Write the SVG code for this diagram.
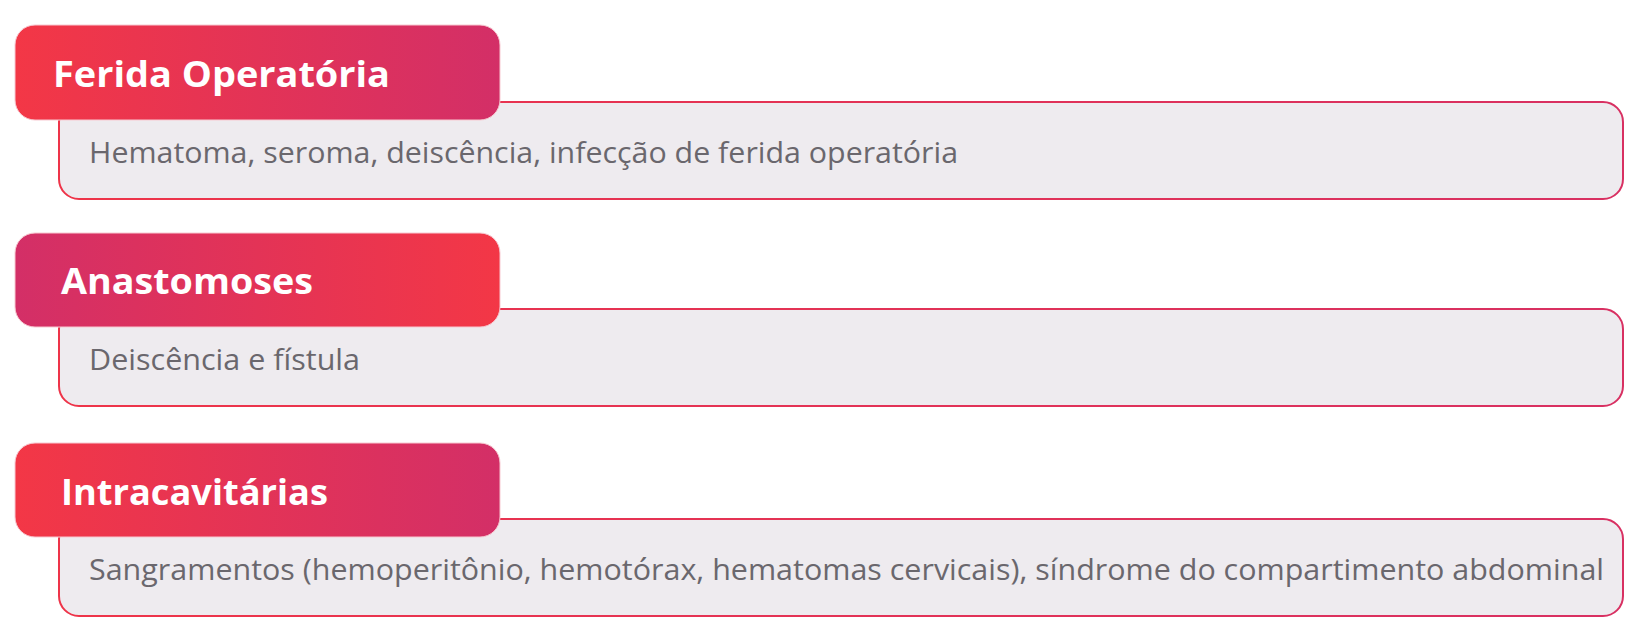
<svg xmlns="http://www.w3.org/2000/svg" width="1646" height="641" viewBox="0 0 1646 641">
  <defs>
    <linearGradient id="gRedPink" x1="0" y1="0" x2="1" y2="0">
      <stop offset="0" stop-color="#F33746"/>
      <stop offset="1" stop-color="#D32F67"/>
    </linearGradient>
    <linearGradient id="gPinkRed" x1="0" y1="0" x2="1" y2="0">
      <stop offset="0" stop-color="#D32F67"/>
      <stop offset="1" stop-color="#F33746"/>
    </linearGradient>
    <linearGradient id="gStroke" x1="0" y1="0" x2="1" y2="0">
      <stop offset="0" stop-color="#EE3449"/>
      <stop offset="1" stop-color="#D83062"/>
    </linearGradient>
    <style>
      .body { fill: #EEEBEF; stroke: url(#gStroke); stroke-width: 2; }
      .head { stroke: #F7C9D1; stroke-width: 1; }
      .ht { font-family: "Open Sans", "Liberation Sans", sans-serif; font-weight: 700; font-size: 36px; fill: #FFFFFF; }
      .bt { font-family: "Open Sans", "Liberation Sans", sans-serif; font-weight: 500; font-size: 29px; fill: #6A676D; }
    </style>
  </defs>
  <rect width="1646" height="641" fill="#FFFFFF"/>

  <g id="node-ferida">
    <rect class="body" x="59" y="102" width="1564" height="97" rx="20" ry="20"/>
    <rect class="head" x="15" y="25" width="485" height="95" rx="20" ry="20" fill="url(#gRedPink)"/>
    <text class="ht" x="53" y="87" textLength="337" lengthAdjust="spacingAndGlyphs">Ferida Operatória</text>
    <text class="bt" x="89" y="163" textLength="869" lengthAdjust="spacingAndGlyphs">Hematoma, seroma, deiscência, infecção de ferida operatória</text>
  </g>

  <g id="node-anastomoses">
    <rect class="body" x="59" y="309" width="1564" height="97" rx="20" ry="20"/>
    <rect class="head" x="15" y="233" width="485" height="94" rx="20" ry="20" fill="url(#gPinkRed)"/>
    <text class="ht" x="61" y="294" textLength="252" lengthAdjust="spacingAndGlyphs">Anastomoses</text>
    <text class="bt" x="89" y="370" textLength="271" lengthAdjust="spacingAndGlyphs">Deiscência e fístula</text>
  </g>

  <g id="node-intracavitarias">
    <rect class="body" x="59" y="519" width="1564" height="97" rx="20" ry="20"/>
    <rect class="head" x="15" y="443" width="485" height="94" rx="20" ry="20" fill="url(#gRedPink)"/>
    <text class="ht" x="61" y="505" textLength="267" lengthAdjust="spacingAndGlyphs">Intracavitárias</text>
    <text class="bt" x="89" y="580" textLength="1515" lengthAdjust="spacingAndGlyphs">Sangramentos (hemoperitônio, hemotórax, hematomas cervicais), síndrome do compartimento abdominal</text>
  </g>

  <g id="connectors"/>
</svg>
